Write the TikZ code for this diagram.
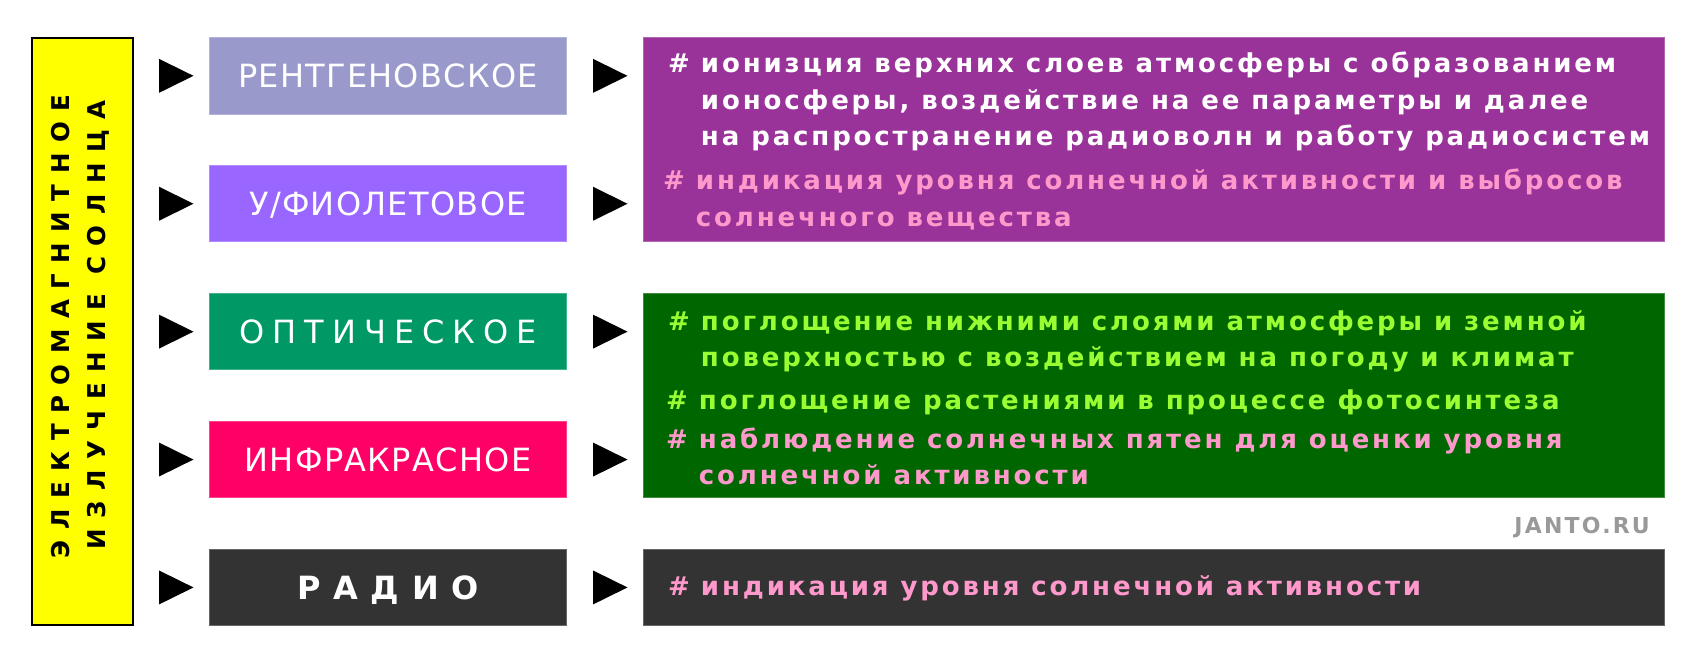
\documentclass[tikz,border=0pt]{standalone}
\usepackage{fontspec}
\setmainfont{DejaVu Sans}
\newfontfamily\lblfont{DejaVu Sans}[LetterSpace=4]
\newfontfamily\lblwide{DejaVu Sans}[LetterSpace=25]
\newfontfamily\lblwider{DejaVu Sans}[LetterSpace=40]
\newfontfamily\yelfont{DejaVu Sans}[LetterSpace=43]
\newfontfamily\rtfont{DejaVu Sans}[LetterSpace=11]
\newfontfamily\wmfont{DejaVu Sans}[LetterSpace=10]
\definecolor{cXray}{HTML}{9999CC}
\definecolor{cUV}{HTML}{9966FF}
\definecolor{cOpt}{HTML}{009966}
\definecolor{cIR}{HTML}{FF0066}
\definecolor{cDark}{HTML}{333333}
\definecolor{cPurp}{HTML}{993399}
\definecolor{cGreen}{HTML}{006600}
\definecolor{cYel}{HTML}{FFFF00}
\definecolor{tPink}{HTML}{FF99CC}
\definecolor{tGreen}{HTML}{99FF33}
\definecolor{tGrey}{HTML}{999999}
\newcommand\bul[1]{\#\hspace{11pt}\begin{tabular}[t]{@{}l@{}}#1\end{tabular}}
\newcommand\tri[2]{\fill[black] (#1,#2-17) -- (#1+34.5,#2) -- (#1,#2+17) -- cycle;}
\tikzset{
  kind/.style={fill=#1, draw=#1!75!white, line width=0.8pt, inner sep=0pt,
    minimum width=357.4pt, minimum height=76.3pt},
  info/.style={fill=#1, draw=#1!75!white, line width=0.8pt, inner sep=0pt,
    minimum width=1021pt},
  lbl/.style={text=white, inner sep=0pt, anchor=base, font=\fontsize{32}{36}\selectfont},
  rt/.style={inner sep=0pt, anchor=base west, font=\rtfont\bfseries\fontsize{26}{36.5}\selectfont},
}
\begin{document}
\begin{tikzpicture}[x=1pt,y=-1pt]
\useasboundingbox (0,0) rectangle (1702,668);
% yellow box
\node[fill=cYel, draw=black, line width=1.6pt, inner sep=0pt,
  minimum width=101pt, minimum height=586.4pt] (em) at (82.2,331.5) {};
\node[rotate=90, anchor=base, inner sep=0pt, font=\yelfont\bfseries\fontsize{24.5}{28}\selectfont]
  (em1) at (69.5,326.5) {ЭЛЕКТРОМАГНИТНОЕ};
\node[rotate=90, anchor=base, inner sep=0pt, font=\yelfont\bfseries\fontsize{24.5}{28}\selectfont]
  (em2) at (105,325) {ИЗЛУЧЕНИЕ СОЛНЦА};
% left boxes
\node[kind=cXray] (b1) at (388,75.85) {};
\node[kind=cUV]   (b2) at (388,203.75) {};
\node[kind=cOpt]  (b3) at (388,331.65) {};
\node[kind=cIR]   (b4) at (388,459.55) {};
\node[kind=cDark] (b5) at (388,587.45) {};
\node[lbl, yshift=-11.6pt] (l1) at (b1.center) {\lblfont РЕНТГЕНОВСКОЕ};
\node[lbl, yshift=-11.6pt] (l2) at (b2.center) {\lblfont У/ФИОЛЕТОВОЕ};
\node[lbl, yshift=-11.6pt] (l3) at (b3.center) {\lblwide ОПТИЧЕСКОЕ};
\node[lbl, yshift=-11.6pt] (l4) at (b4.center) {\lblfont ИНФРАКРАСНОЕ};
\node[lbl, yshift=-11.6pt] (l5) at (b5.center) {\lblwider\bfseries РАДИО};
% arrows
\foreach \yy in {75.85,203.75,331.65,459.55,587.45}{
  \tri{159}{\yy}
  \tri{593}{\yy}
}
% right boxes
\node[info=cPurp, minimum height=204pt] (r1) at (1153.8,139.7) {};
\node[info=cGreen, minimum height=204pt] (r2) at (1153.8,395.3) {};
\node[info=cDark, minimum height=75.7pt] (r3) at (1153.8,587.15) {};
% texts
\node[rt, text=white] (t1) at (668,73) {\bul{ионизция верхних слоев атмосферы с образованием\\ионосферы, воздействие на ее параметры и далее\\на распространение радиоволн и работу радиосистем}};
\node[rt, text=tPink] (t2) at (663,190) {\bul{индикация уровня солнечной активности и выбросов\\солнечного вещества}};
\node[rt, text=tGreen] (t3) at (668,330) {\bul{поглощение нижними слоями атмосферы и земной\\поверхностью с воздействием на погоду и климат}};
\node[rt, text=tGreen] (t4) at (666,409) {\bul{поглощение растениями в процессе фотосинтеза}};
\node[rt, text=tPink] (t5) at (666,448) {\bul{наблюдение солнечных пятен для оценки уровня\\солнечной активности}};
\node[rt, text=tPink] (t6) at (668,595) {\bul{индикация уровня солнечной активности}};
\node[anchor=base east, inner sep=0pt, text=tGrey, font=\wmfont\bfseries\fontsize{22}{26}\selectfont] (wm) at (1650,533) {JANTO.RU};
\end{tikzpicture}
\end{document}
